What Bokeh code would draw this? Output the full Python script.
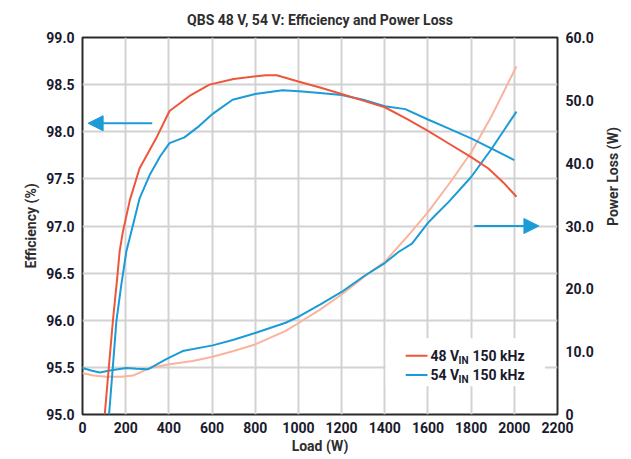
import math
from bokeh.plotting import figure
from bokeh.models import (Range1d, LinearAxis, FixedTicker, NumeralTickFormatter,
                          CustomJSTickFormatter, Arrow, NormalHead, Label, BoxAnnotation)
from bokeh.embed import file_html
from bokeh.resources import INLINE

# ---------------- data ----------------
x_ticks = [0, 200, 400, 600, 800, 1000, 1200, 1400, 1600, 1800, 2000, 2200]
eff_ticks = [95.0, 95.5, 96.0, 96.5, 97.0, 97.5, 98.0, 98.5, 99.0]
loss_ticks = [0, 10, 20, 30, 40, 50, 60]

# Efficiency, 48 V input (%)
eff48_load = [103, 120, 141, 160, 172, 187, 220, 264, 341, 403, 496, 588, 700, 849, 900,
              1003, 1100, 1200, 1300, 1400, 1500, 1600, 1700, 1800, 1880, 1950, 2010]
eff48 = [95.0, 95.45, 96.0, 96.43, 96.73, 96.94, 97.28, 97.61, 97.93, 98.22, 98.38, 98.50,
         98.56, 98.60, 98.60, 98.53, 98.47, 98.40, 98.33, 98.26, 98.14, 98.01, 97.87, 97.73,
         97.61, 97.46, 97.31]

# Efficiency, 54 V input (%)
eff54_load = [123, 140, 157, 180, 203, 226, 264, 311, 360, 403, 472, 540, 603, 695, 800,
              926, 1003, 1100, 1200, 1300, 1400, 1495, 1600, 1700, 1800, 1895, 2000]
eff54 = [95.0, 95.49, 95.99, 96.38, 96.73, 96.94, 97.29, 97.54, 97.74, 97.88, 97.94, 98.06,
         98.19, 98.34, 98.40, 98.44, 98.43, 98.41, 98.39, 98.34, 98.27, 98.24, 98.13, 98.03,
         97.93, 97.82, 97.70]

# Power loss, 48 V input (W)
loss48_load = [0, 50, 111, 180, 234, 311, 404, 510, 603, 700, 803, 941, 1003, 1100, 1200,
               1311, 1400, 1511, 1600, 1700, 1800, 1895, 2010]
loss48 = [6.6, 6.2, 6.0, 6.0, 6.2, 7.4, 8.0, 8.5, 9.2, 10.1, 11.2, 13.3, 14.6, 16.7, 19.1,
          22.1, 24.3, 28.6, 32.2, 36.8, 41.7, 47.5, 55.4]

# Power loss, 54 V input (W)
loss54_load = [0, 40, 80, 126, 203, 250, 303, 388, 464, 603, 700, 803, 941, 1003, 1100, 1200,
               1303, 1400, 1465, 1526, 1600, 1634, 1695, 1800, 1895, 2010]
loss54 = [7.4, 7.0, 6.7, 7.0, 7.4, 7.3, 7.2, 8.8, 10.1, 11.0, 11.9, 13.0, 14.6, 15.6, 17.5,
          19.5, 22.0, 24.1, 25.9, 27.2, 30.5, 31.7, 33.8, 37.8, 42.3, 48.2]

legend_vin = ["48", "54"]
legend_freq = "150 kHz"

# ---------------- styles ----------------
RED = "#ee563b"
BLUE = "#1b9bd7"
SALMON = "#f8b49d"
TICK = "#1a1a2e"
LABEL = "#2e2e2e"
FONT = "Roboto"
GRID = "#d2d2d2"

p = figure(width=631, height=459, output_backend="svg", toolbar_location=None,
           x_range=Range1d(0, 2200), y_range=Range1d(95, 99),
           min_border_left=82, min_border_right=73, min_border_top=35, min_border_bottom=45,
           title="QBS 48 V, 54 V: Efficiency and Power Loss")
p.extra_y_ranges = {"loss": Range1d(0, 60)}

p.title.align = "center"
p.title.text_font = FONT
p.title.text_font_style = "bold"
p.title.text_font_size = "14px"
p.title.text_color = LABEL
p.title.standoff = 19

p.outline_line_color = "#2a2a2a"
p.outline_line_width = 2
p.background_fill_color = "white"
p.border_fill_color = "white"

p.xaxis.ticker = FixedTicker(ticks=x_ticks)
p.yaxis.ticker = FixedTicker(ticks=eff_ticks)
p.yaxis.formatter = NumeralTickFormatter(format="0.0")
p.xgrid.ticker = FixedTicker(ticks=x_ticks)
p.ygrid.ticker = FixedTicker(ticks=eff_ticks)
for g in (p.xgrid, p.ygrid):
    g.grid_line_color = GRID
    g.grid_line_width = 2

right = LinearAxis(y_range_name="loss", ticker=FixedTicker(ticks=loss_ticks),
                   formatter=CustomJSTickFormatter(code="return tick === 0 ? '0' : tick.toFixed(1);"))
p.add_layout(right, "right")


def style_axis(ax):
    ax.axis_line_color = None
    ax.major_tick_line_color = None
    ax.minor_tick_line_color = None
    ax.major_tick_out = 0
    ax.major_tick_in = 0
    ax.minor_tick_out = 0
    ax.minor_tick_in = 0
    ax.major_label_text_font = FONT
    ax.major_label_text_font_style = "bold"
    ax.major_label_text_font_size = "14px"
    ax.major_label_text_color = TICK
    ax.axis_label_text_font = FONT
    ax.axis_label_text_font_style = "bold"
    ax.axis_label_text_font_size = "14px"
    ax.axis_label_text_color = LABEL


for ax in (p.xaxis[0], p.yaxis[0], right):
    style_axis(ax)

p.xaxis.axis_label = "Load (W)"
p.xaxis.major_label_standoff = 7
p.xaxis.axis_label_standoff = 2
p.yaxis[0].axis_label = "Efficiency (%)"
p.yaxis[0].major_label_standoff = 8
p.yaxis[0].axis_label_standoff = 4
right.major_label_standoff = 8
right.axis_label = "Power Loss (W)"
right.axis_label_standoff = 16
if "axis_label_orientation" in right.properties():
    right.axis_label_orientation = math.pi / 2

# legend background (hides grid)
LEG_LEFT, LEG_RIGHT, LEG_BOTTOM, LEG_TOP = 1404, 2142, 95.30, 95.81
p.add_layout(BoxAnnotation(left=LEG_LEFT, right=LEG_RIGHT, bottom=LEG_BOTTOM, top=LEG_TOP,
                           fill_color="white", fill_alpha=1, line_color=None, level="underlay"))

# curves
p.line(loss48_load, loss48, color=SALMON, line_width=2, y_range_name="loss")
p.line(loss54_load, loss54, color=BLUE, line_width=2, y_range_name="loss")
p.line(eff54_load, eff54, color=BLUE, line_width=2)
p.line(eff48_load, eff48, color=RED, line_width=2)

# arrows
p.add_layout(Arrow(end=NormalHead(size=15, fill_color=BLUE, line_color=BLUE),
                   x_start=323, y_start=98.09, x_end=26, y_end=98.09,
                   line_color=BLUE, line_width=2))
p.add_layout(Arrow(end=NormalHead(size=15, fill_color=BLUE, line_color=BLUE),
                   x_start=1815, y_start=30, x_end=2114, y_end=30, y_range_name="loss",
                   line_color=BLUE, line_width=2))

# legend
LEG_SW0, LEG_SW1, LEG_TX = 1497, 1598, 1612
LEG_Y = [95.623, 95.42]
for vin, col, yy in zip(legend_vin, [RED, BLUE], LEG_Y):
    p.segment(x0=[LEG_SW0], y0=[yy], x1=[LEG_SW1], y1=[yy], color=col, line_width=2)
    common = dict(text_font=FONT, text_font_style="bold", text_color=TICK,
                  text_align="left", text_baseline="middle")
    p.add_layout(Label(x=LEG_TX, y=yy, text=f"{vin} V", text_font_size="14px", **common))
    p.add_layout(Label(x=LEG_TX, y=yy, x_offset=28, y_offset=-5, text="IN",
                       text_font_size="10px", **common))
    p.add_layout(Label(x=LEG_TX, y=yy, x_offset=42, text=legend_freq,
                       text_font_size="14px", **common))

open("out.html", "w").write(file_html(p, INLINE))
